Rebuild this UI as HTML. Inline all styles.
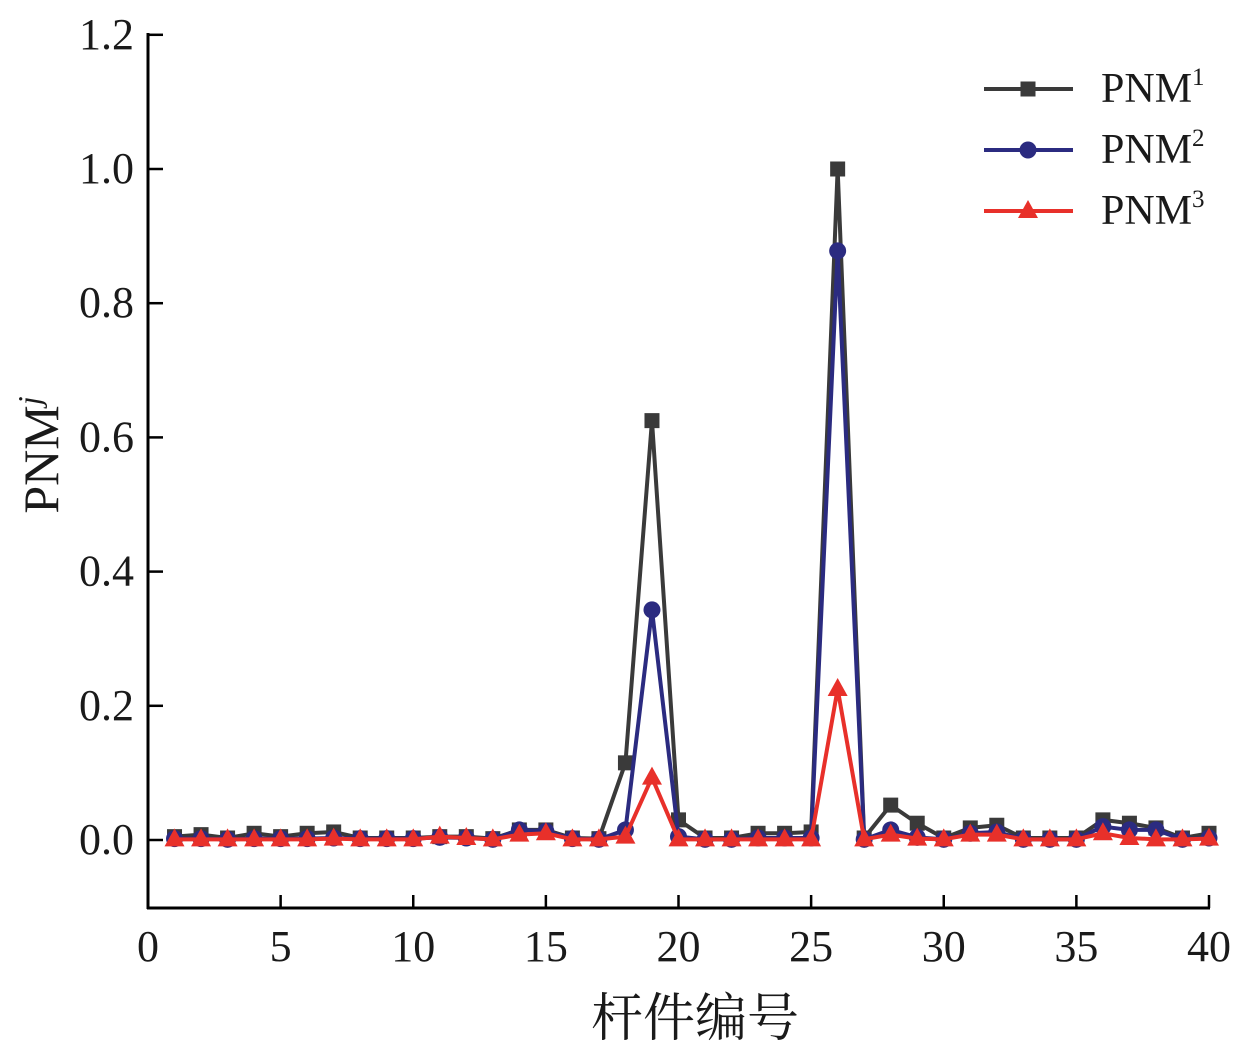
<!DOCTYPE html>
<html><head><meta charset="utf-8"><style>
body{margin:0;background:#fff;}
svg text{font-family:"Liberation Serif","Noto Serif CJK SC",serif;fill:#1a1a1a;}
</style></head><body>
<svg id="chart" width="1240" height="1048" xmlns="http://www.w3.org/2000/svg"></svg>
<script>
const categories = Array.from({length:40},(_,i)=>i+1);
const pnm1 = [0.005,0.008,0.003,0.01,0.005,0.01,0.012,0.003,0.003,0.003,0.005,0.005,0.002,0.015,0.015,0.003,0.002,0.115,0.625,0.03,0.003,0.003,0.01,0.01,0.012,1.0,0.003,0.052,0.025,0.003,0.018,0.022,0.003,0.003,0.003,0.03,0.025,0.018,0.003,0.01];
const pnm2 = [0.002,0.002,0.001,0.002,0.002,0.002,0.003,0.002,0.002,0.002,0.004,0.003,0.001,0.015,0.013,0.002,0.001,0.015,0.343,0.005,0.001,0.001,0.003,0.003,0.003,0.878,0.001,0.015,0.004,0.001,0.01,0.012,0.001,0.001,0.001,0.02,0.015,0.015,0.001,0.003];
const pnm3 = [0.001,0.001,0.001,0.001,0.001,0.001,0.002,0.001,0.001,0.001,0.005,0.003,0.001,0.008,0.01,0.001,0.001,0.005,0.093,0.001,0.001,0.001,0.001,0.001,0.001,0.225,0.001,0.008,0.002,0.001,0.008,0.008,0.001,0.001,0.001,0.01,0.003,0.001,0.001,0.002];
const xTicks = [0,5,10,15,20,25,30,35,40];
const yTicks = [0.0,0.2,0.4,0.6,0.8,1.0,1.2];
const NS="http://www.w3.org/2000/svg";
const svg=document.getElementById('chart');
const X=v=>148+v*(1209-148)/40;
const Y=v=>840-v*671;
function mk(t,a,p){const e=document.createElementNS(NS,t);for(const k in a)e.setAttribute(k,a[k]);(p||svg).appendChild(e);return e;}
const axes=mk('g',{});


mk('line',{x1:148,y1:33,x2:148,y2:909,stroke:'#000','stroke-width':3},axes);
mk('line',{x1:147,y1:908,x2:1210,y2:908,stroke:'#000','stroke-width':3},axes);
xTicks.forEach(t=>{mk('line',{x1:X(t),y1:908,x2:X(t),y2:895,stroke:'#000','stroke-width':2.5},axes);
 const tx=mk('text',{x:X(t),y:961,'text-anchor':'middle','font-size':44},axes);tx.textContent=t;
 });
yTicks.forEach(t=>{mk('line',{x1:148,y1:Y(t),x2:163,y2:Y(t),stroke:'#000','stroke-width':2.5},axes);
 const tx=mk('text',{x:134,y:Y(t)+14,'text-anchor':'end','font-size':44},axes);tx.textContent=t.toFixed(1);
 });
const xt=mk('text',{x:695,y:1036,'text-anchor':'middle','font-size':52});xt.textContent='杆件编号';

const yt=mk('text',{x:58,y:455,'text-anchor':'middle','font-size':50,transform:'rotate(-90 58 455)'});
yt.innerHTML='PNM<tspan font-style="italic" font-size="32" dy="-18">j</tspan>';

function marker(g,type,x,y,c){
 if(type==='sq')mk('rect',{x:x-7.5,y:y-7.5,width:15,height:15,fill:c},g);
 else if(type==='ci')mk('circle',{cx:x,cy:y,r:8.5,fill:c},g);
 else mk('polygon',{points:`${x},${y-11} ${x-10},${y+7} ${x+10},${y+7}`,fill:c},g);
}
const series=[[pnm1,'#3a3a3a','sq','pnm1'],[pnm2,'#2b2b80','ci','pnm2'],[pnm3,'#e8302a','tr','pnm3']];
series.forEach(([d,c,m,n])=>{
 const g=mk('g',{});
 
 mk('polyline',{points:d.map((v,i)=>X(categories[i])+','+Y(v)).join(' '),fill:'none',stroke:c,'stroke-width':4,'stroke-linejoin':'round'},g);
 d.forEach((v,i)=>marker(g,m,X(categories[i]),Y(v),c));
});
const lg=mk('g',{});

series.forEach(([d,c,m,n],i)=>{
 const y=89+i*61;
 mk('line',{x1:984,y1:y,x2:1073,y2:y,stroke:c,'stroke-width':4},lg);
 marker(lg,m,1028,y,c);
 const t=mk('text',{x:1101,y:y+13,'font-size':42},lg);
 t.innerHTML='PNM<tspan font-size="25" dy="-17">'+(i+1)+'</tspan>';
 
});
</script>
</body></html>
